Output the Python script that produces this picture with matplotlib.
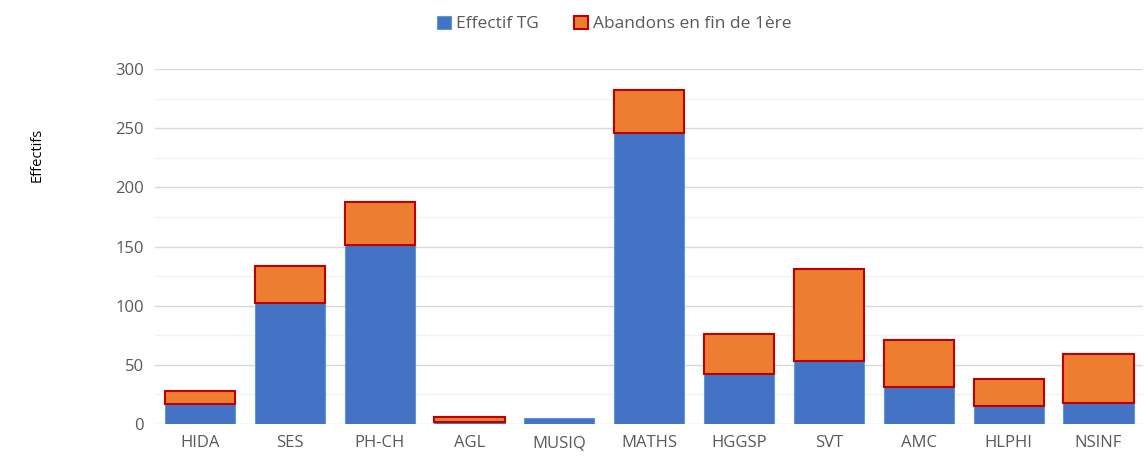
import numpy as np
import matplotlib.pyplot as plt

plt.rcParams['font.family'] = ['Open Sans', 'DejaVu Sans']

categories = ["HIDA", "SES", "PH-CH", "AGL", "MUSIQ", "MATHS", "HGGSP", "SVT", "AMC", "HLPHI", "NSINF"]
effectif_tg = [17, 102, 151, 2, 5, 246, 42, 53, 31, 15, 18]
abandons = [11, 32, 37, 4, 0, 36, 34, 78, 40, 23, 41]

fig = plt.figure(figsize=(11.48, 4.67), dpi=100)
ax = fig.add_axes([0.135, 0.092, 0.861, 0.76])

x = np.arange(len(categories))
ax.bar(x, effectif_tg, width=0.78, color="#4472c4", edgecolor="#5b9bd5",
       linewidth=0.8, label="Effectif TG", zorder=3)
# pas de contour rouge pour les barres vides
lw = [1.5 if a > 0 else 0 for a in abandons]
ax.bar(x, abandons, width=0.78, bottom=effectif_tg, color="#ed7d31",
       edgecolor="#c00000", linewidth=lw, label="Abandons en fin de 1ère", zorder=3)

ax.set_ylim(0, 300)
ax.set_xlim(-0.5, len(categories) - 0.5)
ax.set_yticks(range(0, 301, 50))
ax.set_yticks(range(25, 300, 50), minor=True)
ax.grid(axis="y", which="major", color="#d9d9d9", linewidth=1, zorder=0)
ax.grid(axis="y", which="minor", color="#f2f2f2", linewidth=1, zorder=0)
ax.set_xticks(x)
ax.set_xticklabels(categories)
ax.tick_params(axis="both", which="both", length=0, labelsize=12, colors="#595959", pad=8)
for s in ax.spines.values():
    s.set_visible(False)

ax.set_ylabel("Effectifs", fontsize=10.5, color="black")
ax.yaxis.set_label_coords(-0.112, 0.758)

leg = fig.legend(loc="upper center", bbox_to_anchor=(0.535, 1.0), ncol=2, frameon=False,
                 fontsize=12.5, handlelength=0.8, handleheight=0.8, columnspacing=2.0,
                 handletextpad=0.3)
leg.get_patches()[1].set_linewidth(1.5)
for t in leg.get_texts():
    t.set_color("#595959")

fig.savefig("out.png", dpi=100)
